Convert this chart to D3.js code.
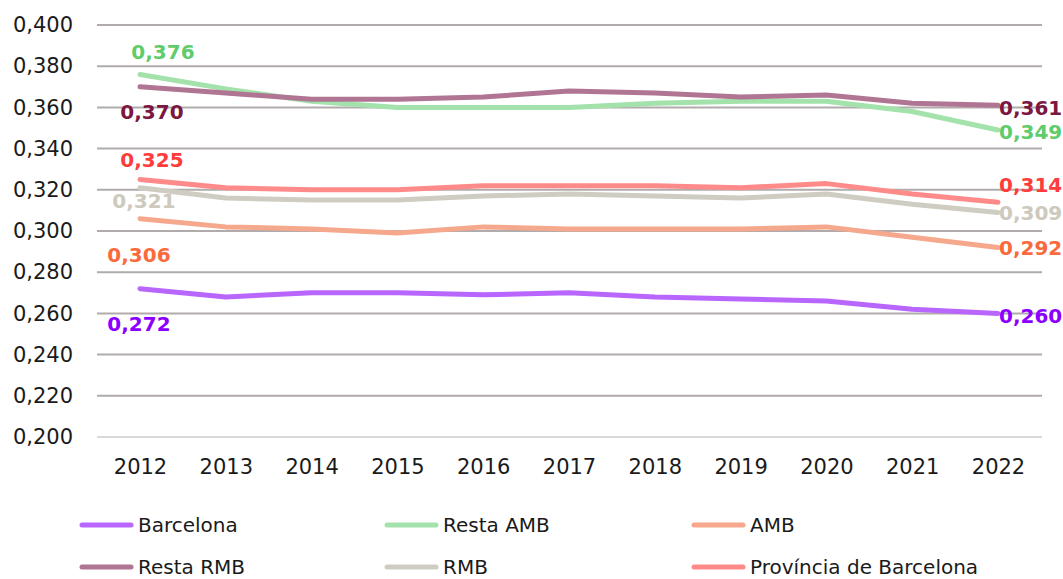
<!DOCTYPE html>
<html>
<head>
<meta charset="utf-8">
<script src="https://cdn.jsdelivr.net/npm/d3@7"></script>
<style>
  body { margin: 0; background: #fff; }
  svg { font-family: "DejaVu Sans", sans-serif; }
</style>
</head>
<body>
<div id="chart"></div>
<script>
// Data
const years = ["2012", "2013", "2014", "2015", "2016", "2017", "2018", "2019", "2020", "2021", "2022"];
const yTicks = [0.200, 0.220, 0.240, 0.260, 0.280, 0.300, 0.320, 0.340, 0.360, 0.380, 0.400];

const seriesNames = ["Barcelona", "Resta AMB", "AMB", "Resta RMB", "RMB", "Província de Barcelona"];
const barcelona = [0.272, 0.268, 0.270, 0.270, 0.269, 0.270, 0.268, 0.267, 0.266, 0.262, 0.260];
const restaAMB  = [0.376, 0.369, 0.363, 0.360, 0.360, 0.360, 0.362, 0.363, 0.363, 0.358, 0.349];
const amb       = [0.306, 0.302, 0.301, 0.299, 0.302, 0.301, 0.301, 0.301, 0.302, 0.297, 0.292];
const restaRMB  = [0.370, 0.367, 0.364, 0.364, 0.365, 0.368, 0.367, 0.365, 0.366, 0.362, 0.361];
const rmb       = [0.321, 0.316, 0.315, 0.315, 0.317, 0.318, 0.317, 0.316, 0.318, 0.313, 0.309];
const provincia = [0.325, 0.321, 0.320, 0.320, 0.322, 0.322, 0.322, 0.321, 0.323, 0.318, 0.314];

// styles
const lineColors  = ["#b866fd", "#a3e2ab", "#f5a88c", "#b07592", "#cfcdc1", "#ff8a8a"];
const labelColors = ["#8c00ff", "#5fcc6c", "#fa6a3c", "#7b1740", "#cdc9bd", "#ff3c3c"];
// label offsets (first point / last point) in px
const firstOffsets = [[-1, 35], [23, -22], [-1, 36], [12, 25], [4, 13], [12, -20]];
const lastOffsets  = [[0, 3], [0, 2], [0, 1], [0, 3], [0, 1], [0, -17]];

const values = [barcelona, restaAMB, amb, restaRMB, rmb, provincia];
const series = seriesNames.map((name, i) => ({
    name: name,
    values: values[i],
    color: lineColors[i],
    labelColor: labelColors[i]
}));

const width = 1063, height = 579;
const plot = {left: 97, right: 1042, top: 25, bottom: 437};

const svg = d3.select("#chart").append("svg")
    .attr("width", width)
    .attr("height", height);

const x = d3.scalePoint()
    .domain(years)
    .range([140, 998]);

const y = d3.scaleLinear()
    .domain([0.2, 0.4])
    .range([plot.bottom, plot.top]);

const fmt = v => d3.format(".3f")(v).replace(".", ",");

// gridlines
svg.append("g")
    .selectAll("line")
    .data(yTicks)
    .enter().append("line")
    .attr("x1", plot.left)
    .attr("x2", plot.right)
    .attr("y1", d => y(d))
    .attr("y2", d => y(d))
    .attr("stroke", d => d === 0.2 ? "#d9d9d9" : "#b1abab")
    .attr("stroke-width", 2);

// y axis labels
const yAxis = svg.append("g")
    .attr("transform", `translate(${plot.left - 24},0)`)
    .call(d3.axisLeft(y).tickValues(yTicks).tickFormat(fmt).tickSize(0).tickPadding(0));
yAxis.select(".domain").remove();
yAxis.selectAll("text")
    .attr("font-size", 21)
    .attr("font-family", "DejaVu Sans, sans-serif")
    .attr("fill", "#1a1a1a");

// x axis labels
const xAxis = svg.append("g")
    .attr("transform", `translate(0,${plot.bottom + 22})`)
    .call(d3.axisBottom(x).tickSize(0).tickPadding(0));
xAxis.select(".domain").remove();
xAxis.selectAll("text")
    .attr("font-size", 21)
    .attr("font-family", "DejaVu Sans, sans-serif")
    .attr("fill", "#1a1a1a");

// lines
const line = d3.line()
    .x((d, i) => x(years[i]))
    .y(d => y(d));

svg.append("g")
    .selectAll("path")
    .data(series)
    .enter().append("path")
    .attr("fill", "none")
    .attr("stroke", d => d.color)
    .attr("stroke-width", 5)
    .attr("stroke-linejoin", "round")
    .attr("stroke-linecap", "round")
    .attr("d", d => line(d.values));

// value labels
const labels = svg.append("g")
    .attr("font-weight", "bold")
    .attr("font-size", 20);

series.forEach((s, i) => {
    const first = s.values[0];
    const last = s.values[s.values.length - 1];
    labels.append("text")
        .attr("x", x(years[0]) + firstOffsets[i][0])
        .attr("y", y(first) + firstOffsets[i][1])
        .attr("text-anchor", "middle")
        .attr("dominant-baseline", "central")
        .attr("fill", s.labelColor)
        .text(fmt(first));
    labels.append("text")
        .attr("x", x(years[years.length - 1]) + 1 + lastOffsets[i][0])
        .attr("y", y(last) + lastOffsets[i][1])
        .attr("text-anchor", "start")
        .attr("dominant-baseline", "central")
        .attr("fill", s.labelColor)
        .text(fmt(last));
});

// legend
const legendCols = [80, 385, 692];
const legendRows = [525, 567];
const legend = svg.append("g").attr("font-size", 20);

series.forEach((s, i) => {
    const lx = legendCols[i % 3];
    const ly = legendRows[Math.floor(i / 3)];
    legend.append("line")
        .attr("x1", lx + 2)
        .attr("x2", lx + 51)
        .attr("y1", ly)
        .attr("y2", ly)
        .attr("stroke", s.color)
        .attr("stroke-width", 5)
        .attr("stroke-linecap", "round");
    legend.append("text")
        .attr("x", lx + 58)
        .attr("y", ly)
        .attr("dominant-baseline", "central")
        .attr("fill", "#1a1a1a")
        .text(s.name);
});
</script>
</body>
</html>
